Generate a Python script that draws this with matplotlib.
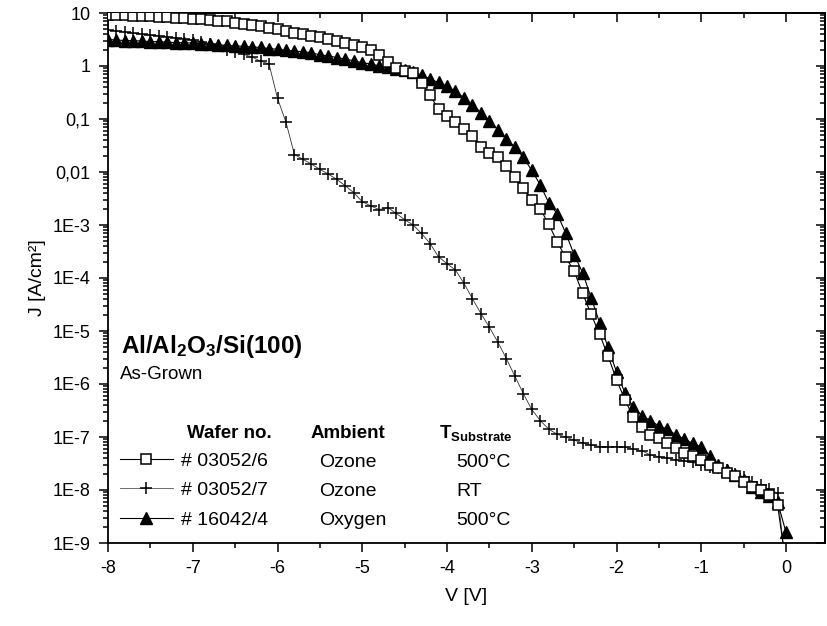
import numpy as np
import matplotlib
matplotlib.use("Agg")
import matplotlib.pyplot as plt
from matplotlib.ticker import FixedLocator, FixedFormatter, LogLocator, NullFormatter, MultipleLocator
from matplotlib.lines import Line2D

plt.rcParams['font.family'] = ['Liberation Sans', 'DejaVu Sans']
plt.rcParams['mathtext.default'] = 'regular'

# ---------------- data ----------------
voltage = np.round(np.arange(-8.0, 0.0001, 0.1), 2)

# log10(J) for wafer 03052/6 (Ozone, 500 C) - squares
logj_03052_6 = [
    0.97, 0.97, 0.96, 0.95, 0.95, 0.94, 0.93, 0.92, 0.91, 0.90,
    0.89, 0.88, 0.87, 0.85, 0.84, 0.82, 0.80, 0.78, 0.75, 0.72,
    0.69, 0.66, 0.63, 0.60, 0.57, 0.54, 0.51, 0.48, 0.44, 0.40,
    0.35, 0.30, 0.21, 0.08, -0.04, -0.09, -0.14, -0.33, -0.55, -0.82,
    -0.94, -1.05, -1.18, -1.33, -1.52, -1.65, -1.71, -1.88, -2.09, -2.31,
    -2.52, -2.70, -2.98, -3.32, -3.61, -3.87, -4.29, -4.68, -5.06, -5.47,
    -5.92, -6.30, -6.63, -6.82, -6.96, -7.02, -7.12, -7.21, -7.30, -7.36,
    -7.43, -7.52, -7.59, -7.67, -7.74, -7.84, -7.94, -8.00, -8.09, -8.28,
    -9.40]

# log10(J) for wafer 03052/7 (Ozone, RT) - plus
logj_03052_7 = [
    0.68, 0.66, 0.64, 0.62, 0.60, 0.58, 0.57, 0.55, 0.53, 0.51,
    0.49, 0.46, 0.42, 0.37, 0.31, 0.26, 0.22, 0.17, 0.09, 0.04,
    -0.61, -1.06, -1.67, -1.76, -1.85, -1.95, -2.04, -2.14, -2.26, -2.39,
    -2.56, -2.64, -2.71, -2.67, -2.78, -2.90, -3.00, -3.16, -3.35, -3.60,
    -3.73, -3.85, -4.10, -4.39, -4.67, -4.93, -5.21, -5.52, -5.85, -6.18,
    -6.48, -6.69, -6.85, -6.95, -7.00, -7.06, -7.11, -7.15, -7.18, -7.19,
    -7.18, -7.19, -7.23, -7.26, -7.34, -7.37, -7.40, -7.43, -7.45, -7.48,
    -7.53, -7.56, -7.59, -7.63, -7.70, -7.75, -7.84, -7.91, -7.99, -8.06,
    -9.50]

# log10(J) for wafer 16042/4 (Oxygen, 500 C) - filled triangles
logj_16042_4 = [
    0.50, 0.49, 0.48, 0.48, 0.47, 0.46, 0.46, 0.45, 0.44, 0.44,
    0.43, 0.42, 0.41, 0.40, 0.39, 0.38, 0.37, 0.36, 0.35, 0.33,
    0.315, 0.30, 0.28, 0.27, 0.25, 0.21, 0.19, 0.16, 0.13, 0.10,
    0.06, 0.04, 0.00, -0.02, -0.05, -0.08, -0.11, -0.17, -0.25, -0.31,
    -0.38, -0.48, -0.60, -0.73, -0.88, -1.03, -1.20, -1.38, -1.53, -1.72,
    -1.97, -2.24, -2.58, -2.79, -3.15, -3.56, -3.90, -4.37, -4.84, -5.31,
    -5.77, -6.17, -6.44, -6.60, -6.69, -6.79, -6.85, -6.96, -7.04, -7.12,
    -7.19, -7.36, -7.53, -7.62, -7.72, -7.81, -7.94, -8.03, -8.11, -8.22,
    -8.80]

wafer_labels = ["# 03052/6", "# 03052/7", "# 16042/4"]
ambient_labels = ["Ozone", "Ozone", "Oxygen"]
temp_labels = ["500°C", "RT", "500°C"]

ytick_values = [1e-9, 1e-8, 1e-7, 1e-6, 1e-5, 1e-4, 1e-3, 1e-2, 1e-1, 1, 10]
ytick_labels = ["1E-9", "1E-8", "1E-7", "1E-6", "1E-5", "1E-4", "1E-3",
                "0,01", "0,1", "1", "10"]
xtick_values = [-8, -7, -6, -5, -4, -3, -2, -1, 0]
xtick_labels = ["-8", "-7", "-6", "-5", "-4", "-3", "-2", "-1", "0"]

# ---------------- figure ----------------
W, H = 827, 626
fig = plt.figure(figsize=(W / 100, H / 100), dpi=100)
L, R, T, B = 108, 825, 13, 543
ax = fig.add_axes([L / W, 1 - B / H, (R - L) / W, (B - T) / H])

j_sq = 10 ** np.array(logj_03052_6)
j_pl = 10 ** np.array(logj_03052_7)
j_tr = 10 ** np.array(logj_16042_4)

SQ = dict(marker='s', ms=6.8, mfc='white', mec='black', mew=1.1)
PL = dict(marker='+', ms=9, mew=1.1, mec='black')
TR = dict(marker='^', ms=8, mfc='black', mec='black')

ax.plot(voltage, j_pl, color='#333333', lw=0.6, zorder=2, **PL)
ax.plot(voltage, j_tr, color='black', lw=0.8, zorder=3, **TR)
ax.plot(voltage, j_sq, color='black', lw=0.8, zorder=4, **SQ)

ax.set_yscale('log')
ax.set_xlim(-8, 0.46)
ax.set_ylim(1e-9, 10)

ax.xaxis.set_major_locator(FixedLocator(xtick_values))
ax.xaxis.set_major_formatter(FixedFormatter(xtick_labels))
ax.xaxis.set_minor_locator(MultipleLocator(0.5))
ax.yaxis.set_major_locator(FixedLocator(ytick_values))
ax.yaxis.set_major_formatter(FixedFormatter(ytick_labels))
ax.yaxis.set_minor_locator(LogLocator(base=10, subs=np.arange(2, 10), numticks=20))
ax.yaxis.set_minor_formatter(NullFormatter())

for s in ax.spines.values():
    s.set_linewidth(1.3)

ax.tick_params(which='both', direction='out', width=1.1, labelsize=13,
               top=False, right=False)
ax.tick_params(which='major', length=6.5, pad=6)
ax.tick_params(which='minor', length=3.5)

# top and right mirrored axes with inward ticks
sx = ax.secondary_xaxis('top')
sx.xaxis.set_major_locator(FixedLocator(xtick_values))
sx.xaxis.set_minor_locator(MultipleLocator(0.5))
sx.tick_params(which='both', direction='in', width=1.1, labeltop=False)
sx.tick_params(which='major', length=6.5)
sx.tick_params(which='minor', length=3.5)
sx.spines['top'].set_linewidth(1.3)

sy = ax.secondary_yaxis('right')
sy.yaxis.set_major_locator(FixedLocator(ytick_values))
sy.yaxis.set_minor_locator(LogLocator(base=10, subs=np.arange(2, 10), numticks=20))
sy.yaxis.set_minor_formatter(NullFormatter())
sy.tick_params(which='both', direction='in', width=1.1, labelright=False)
sy.tick_params(which='major', length=6.5)
sy.tick_params(which='minor', length=3.5)
sy.spines['right'].set_linewidth(1.3)

ax.set_xlabel("V [V]", fontsize=14, labelpad=8)
ax.set_ylabel("J [A/cm²]", fontsize=14, labelpad=5)

# legend (handles drawn by the library)
handles = [
    Line2D([], [], color='black', lw=0.8, **SQ),
    Line2D([], [], color='#555555', lw=0.6, **PL),
    Line2D([], [], color='black', lw=0.8, **TR),
]
leg = ax.legend(handles, wafer_labels, loc='upper left',
                bbox_to_anchor=(120 / W, 1 - 452 / H), bbox_transform=fig.transFigure,
                frameon=False, fontsize=14, borderpad=0, borderaxespad=0,
                handlelength=2.7, handletextpad=0.45, labelspacing=0.62)

def ftext(x, y, s, **kw):
    fig.text(x / W, 1 - y / H, s, va='baseline', ha='left', **kw)

ftext(187, 438, "Wafer no.", fontsize=13.5, fontweight='bold')
ftext(311, 438, "Ambient", fontsize=13.5, fontweight='bold')
ftext(439, 438, "T$_{Substrate}$", fontsize=13.5, fontweight='bold')

row_y = [466.7, 495.5, 525]
for yy, amb, tmp in zip(row_y, ambient_labels, temp_labels):
    ftext(319, yy, amb, fontsize=14)
    ftext(456, yy, tmp, fontsize=14)

ftext(121, 352.7, "Al/Al$_2$O$_3$/Si(100)", fontsize=17.5, fontweight='bold')
ftext(120, 379, "As-Grown", fontsize=13.5)

fig.savefig("out.png", dpi=100)
